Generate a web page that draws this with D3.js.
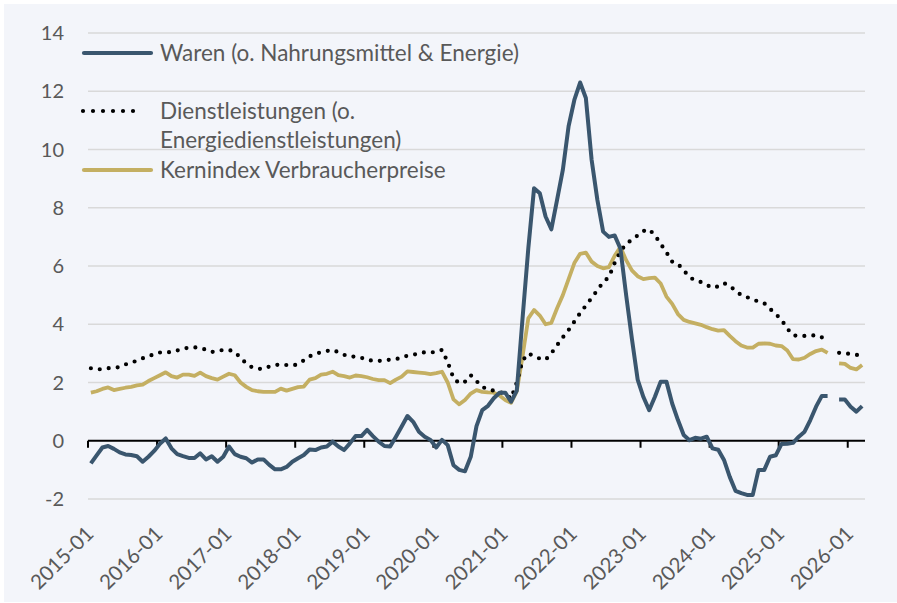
<!DOCTYPE html>
<html>
<head>
<meta charset="utf-8">
<script src="https://cdn.jsdelivr.net/npm/d3@7"></script>
<style>
	body { margin: 0; background: #fff; }
	svg { display: block; font-family: Lato, "Open Sans", sans-serif; }
</style>
</head>
<body>
<script>
// Kategorien: Monate 2015-01 bis 2026-03
var years = d3.range(2015, 2027);
var months = [];
years.forEach(function(y){
	d3.range(1, 13).forEach(function(m){ months.push(y + "-" + (m < 10 ? "0" + m : m)); });
});
months = months.slice(0, 135);

var xTickLabels = ["2015-01","2016-01","2017-01","2018-01","2019-01","2020-01","2021-01","2022-01","2023-01","2024-01","2025-01","2026-01"];
var yTicks = [-2, 0, 2, 4, 6, 8, 10, 12, 14];

var seriesNames = ["Waren (o. Nahrungsmittel & Energie)", "Dienstleistungen (o. Energiedienstleistungen)", "Kernindex Verbraucherpreise"];

var waren = [
	-0.78,-0.5,-0.23,-0.18,-0.28,-0.4,-0.47,-0.49,-0.53,-0.72,-0.55,-0.35,
	-0.1,0.08,-0.26,-0.46,-0.53,-0.59,-0.59,-0.43,-0.64,-0.53,-0.72,-0.55,
	-0.2,-0.46,-0.55,-0.6,-0.75,-0.64,-0.64,-0.83,-0.98,-0.98,-0.9,-0.72,
	-0.6,-0.49,-0.3,-0.32,-0.23,-0.2,-0.03,-0.2,-0.32,-0.09,0.16,0.16,
	0.37,0.16,-0.03,-0.18,-0.2,0.14,0.49,0.85,0.65,0.31,0.14,0.03,
	-0.23,0.03,-0.15,-0.84,-1.0,-1.05,-0.55,0.5,1.05,1.2,1.46,1.65,
	1.65,1.34,1.72,4.2,6.6,8.67,8.5,7.7,7.26,8.27,9.3,10.8,
	11.7,12.3,11.77,9.65,8.27,7.18,7.0,7.05,6.6,5.0,3.5,2.1,
	1.5,1.05,1.51,2.03,2.03,1.28,0.71,0.2,0.02,0.1,0.07,0.14,
	-0.26,-0.31,-0.66,-1.24,-1.72,-1.8,-1.86,-1.86,-1.0,-1.0,-0.55,-0.5,
	-0.11,-0.1,-0.07,0.14,0.31,0.71,1.17,1.54,1.54,null,1.42,1.42,
	1.17,1.0,1.19
];

var dienst = [
	2.49,2.45,2.46,2.49,2.5,2.53,2.62,2.68,2.75,2.83,2.9,2.97,
	3.03,3.04,3.04,3.1,3.15,3.2,3.21,3.18,3.13,3.05,3.08,3.12,
	3.12,3.05,2.85,2.65,2.52,2.47,2.47,2.55,2.6,2.62,2.6,2.58,
	2.63,2.76,2.9,2.98,3.04,3.08,3.12,3.04,2.95,2.89,2.89,2.85,
	2.77,2.75,2.74,2.77,2.78,2.8,2.86,2.92,2.95,3.0,3.04,3.03,
	3.05,3.12,2.7,2.15,1.97,2.03,2.25,2.05,1.85,1.76,1.72,1.68,
	1.6,1.45,2.0,2.75,3.0,2.9,2.82,2.78,3.0,3.28,3.55,3.8,
	4.09,4.38,4.64,4.9,5.17,5.44,5.62,6.1,6.5,6.76,6.9,7.05,
	7.2,7.26,7.05,6.76,6.47,6.15,6.07,5.85,5.62,5.5,5.45,5.35,
	5.25,5.3,5.41,5.32,5.15,5.0,4.93,4.85,4.78,4.72,4.53,4.35,
	4.15,3.85,3.62,3.6,3.6,3.6,3.63,3.55,3.45,null,3.02,3.0,
	2.98,2.95,2.92
];

var kern = [
	1.65,1.7,1.78,1.83,1.74,1.78,1.82,1.85,1.9,1.93,2.05,2.15,
	2.25,2.35,2.22,2.17,2.27,2.27,2.23,2.34,2.22,2.15,2.1,2.2,
	2.3,2.25,2.0,1.85,1.74,1.7,1.68,1.68,1.68,1.79,1.72,1.78,
	1.84,1.86,2.1,2.15,2.27,2.3,2.37,2.25,2.22,2.17,2.24,2.22,
	2.18,2.12,2.08,2.08,1.98,2.1,2.2,2.38,2.36,2.34,2.32,2.29,
	2.32,2.37,2.0,1.42,1.25,1.4,1.62,1.74,1.68,1.66,1.65,1.55,
	1.4,1.3,1.7,2.9,4.2,4.49,4.3,4.0,4.05,4.55,5.0,5.55,
	6.1,6.42,6.46,6.15,6.0,5.92,5.96,6.35,6.65,6.2,5.85,5.65,
	5.55,5.58,5.6,5.4,4.95,4.7,4.35,4.15,4.08,4.03,3.98,3.9,
	3.83,3.78,3.8,3.6,3.42,3.27,3.2,3.2,3.33,3.34,3.33,3.27,
	3.25,3.1,2.8,2.79,2.85,2.98,3.08,3.13,3.02,null,2.66,2.64,
	2.5,2.45,2.6
];

(function(){
	const Config = {
		svg: {Width: 897, Height: 603},
		plot: {left: 88, right: 865, top: 33, bottom: 499},
		colors: {waren: "#3a566e", dienst: "#000000", kern: "#c4af62", text: "#595959", grid: "#d9d9d9", bg: "#f3f5fa"}
	};

	var svg = d3.select("body").append("svg")
		.attr("width", Config.svg.Width)
		.attr("height", Config.svg.Height);

	svg.append("rect")
		.attr("x", 4).attr("y", 4)
		.attr("width", Config.svg.Width - 4).attr("height", Config.svg.Height - 5)
		.attr("fill", Config.colors.bg);

	var scaleX = d3.scaleBand().domain(months).range([Config.plot.left, Config.plot.right]).padding(0);
	var scaleY = d3.scaleLinear().domain([-2, 14]).range([Config.plot.bottom, Config.plot.top]);
	var cx = function(i){ return scaleX(months[i]) + scaleX.bandwidth() / 2; };

	// gridlines
	svg.append("g").attr("class", "grid")
		.selectAll("line")
		.data(yTicks.filter(function(d){ return d !== 0; }))
		.enter().append("line")
			.attr("x1", Config.plot.left).attr("x2", Config.plot.right)
			.attr("y1", function(d){ return scaleY(d); })
			.attr("y2", function(d){ return scaleY(d); })
			.attr("stroke", Config.colors.grid)
			.attr("stroke-width", 1.5);

	// y labels
	svg.append("g").attr("class", "axis axis--y")
		.selectAll("text")
		.data(yTicks)
		.enter().append("text")
			.attr("x", 64)
			.attr("y", function(d){ return scaleY(d); })
			.attr("dy", "0.36em")
			.attr("text-anchor", "end")
			.attr("fill", Config.colors.text)
			.style("font-size", "20px")
			.text(function(d){ return d; });

	// x axis at zero
	var axisX = svg.append("g").attr("class", "axis axis--x")
		.attr("transform", "translate(0," + scaleY(0) + ")");
	axisX.append("line")
		.attr("x1", Config.plot.left).attr("x2", Config.plot.right)
		.attr("stroke", "#000").attr("stroke-width", 2);
	axisX.selectAll(".tick")
		.data(xTickLabels)
		.enter().append("line")
			.attr("class", "tick")
			.attr("x1", function(d){ return scaleX(d); })
			.attr("x2", function(d){ return scaleX(d); })
			.attr("y1", 0).attr("y2", 7)
			.attr("stroke", "#000").attr("stroke-width", 2);

	svg.append("g").attr("class", "xlabels")
		.selectAll("text")
		.data(xTickLabels)
		.enter().append("text")
			.attr("transform", function(d){ return "translate(" + (scaleX(d) + scaleX.bandwidth() / 2 + 4) + ",535) rotate(-45)"; })
			.attr("text-anchor", "end")
			.attr("fill", Config.colors.text)
			.style("font-size", "20.5px")
			.text(function(d){ return d; });

	var line = d3.line()
		.defined(function(d){ return d != null; })
		.x(function(d, i){ return cx(i); })
		.y(function(d){ return scaleY(d); });

	svg.append("path").datum(kern)
		.attr("fill", "none").attr("stroke", Config.colors.kern)
		.attr("stroke-width", 3.8).attr("stroke-linejoin", "round")
		.attr("d", line);
	svg.append("path").datum(dienst)
		.attr("fill", "none").attr("stroke", Config.colors.dienst)
		.attr("stroke-width", 4.2).attr("stroke-linecap", "round")
		.attr("stroke-dasharray", "0 9")
		.attr("d", line);
	svg.append("path").datum(waren)
		.attr("fill", "none").attr("stroke", Config.colors.waren)
		.attr("stroke-width", 4).attr("stroke-linejoin", "round")
		.attr("d", line);

	// legend
	var legend = svg.append("g").attr("class", "legend");
	var legendItems = [
		{y: 53, color: Config.colors.waren, dash: null, lines: [seriesNames[0]]},
		{y: 111, color: Config.colors.dienst, dash: "0 10", lines: ["Dienstleistungen (o.", "Energiedienstleistungen)"]},
		{y: 170, color: Config.colors.kern, dash: null, lines: [seriesNames[2]]}
	];
	legendItems.forEach(function(it){
		legend.append("line")
			.attr("x1", it.dash ? 83 : 84).attr("x2", it.dash ? 143 : 151)
			.attr("y1", it.y).attr("y2", it.y)
			.attr("stroke", it.color)
			.attr("stroke-width", 4.2)
			.attr("stroke-linecap", "round")
			.attr("stroke-dasharray", it.dash);
		it.lines.forEach(function(t, k){
			legend.append("text")
				.attr("x", 160)
				.attr("y", it.y + 7.5 + k * 29.5)
				.attr("fill", Config.colors.text)
				.style("font-size", "22.5px")
				.text(t);
		});
	});
})();
</script>
</body>
</html>
